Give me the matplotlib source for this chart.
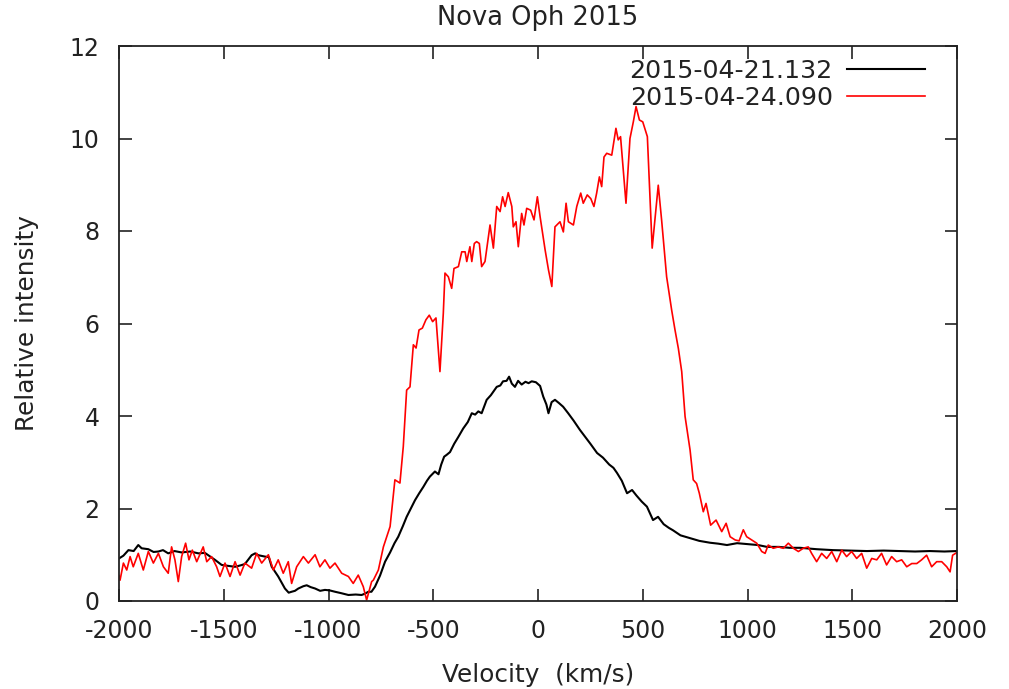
import matplotlib
matplotlib.use("Agg")
import matplotlib.pyplot as plt

# ---------------- data ----------------
black_v = [-2000, -1979, -1955, -1930, -1908, -1892, -1860, -1835, -1812, -1790,
           -1765, -1735, -1701, -1660, -1621, -1590, -1574, -1542, -1510, -1480,
           -1446, -1420, -1399, -1367, -1350, -1335, -1303, -1285, -1271, -1240,
           -1208, -1190, -1176, -1160, -1144, -1120, -1104, -1085, -1064, -1040,
           -1017, -995, -969, -940, -905, -870, -842, -825, -810, -795,
           -778, -754, -730, -706, -685, -667, -645, -627, -605, -587,
           -567, -547, -530, -516, -492, -475, -462, -448, -436, -420,
           -400, -380, -357, -335, -316, -300, -285, -269, -245, -225,
           -197, -180, -167, -150, -138, -125, -110, -95, -78, -60,
           -45, -30, -10, 10, 25, 40, 50, 65, 81, 100,
           120, 144, 170, 200, 225, 250, 282, 310, 340, 360,
           377, 400, 425, 449, 470, 495, 520, 549, 573, 600,
           625, 644, 680, 725, 770, 821, 860, 902, 950, 998,
           1050, 1093, 1150, 1200, 1251, 1330, 1408, 1490, 1570, 1650,
           1728, 1800, 1870, 1940, 1990, 2000]
black_i = [0.92, 0.98, 1.10, 1.08, 1.21, 1.14, 1.12, 1.06, 1.07, 1.10,
           1.03, 1.08, 1.05, 1.07, 1.03, 1.04, 0.99, 0.89, 0.78, 0.76,
           0.74, 0.77, 0.80, 0.99, 1.03, 0.99, 0.96, 0.95, 0.74, 0.53,
           0.27, 0.18, 0.20, 0.22, 0.27, 0.32, 0.34, 0.30, 0.27, 0.22,
           0.24, 0.23, 0.20, 0.17, 0.13, 0.14, 0.13, 0.16, 0.20, 0.20,
           0.31, 0.55, 0.85, 1.05, 1.25, 1.39, 1.62, 1.82, 2.02, 2.18,
           2.33, 2.47, 2.60, 2.69, 2.80, 2.74, 2.95, 3.12, 3.16, 3.22,
           3.40, 3.55, 3.73, 3.87, 4.06, 4.03, 4.10, 4.06, 4.35, 4.45,
           4.63, 4.66, 4.75, 4.76, 4.85, 4.70, 4.63, 4.76, 4.68, 4.74,
           4.71, 4.75, 4.73, 4.65, 4.42, 4.25, 4.06, 4.30, 4.35, 4.28,
           4.20, 4.06, 3.90, 3.70, 3.55, 3.40, 3.20, 3.10, 2.95, 2.88,
           2.77, 2.60, 2.33, 2.40, 2.28, 2.15, 2.04, 1.75, 1.82, 1.66,
           1.58, 1.53, 1.42, 1.36, 1.30, 1.26, 1.24, 1.21, 1.25, 1.23,
           1.21, 1.17, 1.17, 1.15, 1.15, 1.12, 1.10, 1.09, 1.08, 1.09,
           1.08, 1.07, 1.08, 1.07, 1.08, 1.08]

red_v = [-2000, -1995, -1979, -1963, -1947, -1932, -1908, -1884, -1860, -1836,
         -1812, -1788, -1765, -1749, -1733, -1717, -1701, -1682, -1666, -1650,
         -1629, -1598, -1581, -1558, -1534, -1518, -1494, -1470, -1446, -1422,
         -1399, -1367, -1343, -1319, -1287, -1263, -1240, -1216, -1192, -1176,
         -1152, -1120, -1096, -1064, -1041, -1017, -993, -969, -937, -905,
         -882, -858, -834, -818, -794, -786, -762, -738, -706, -683,
         -659, -643, -627, -611, -595, -582, -568, -552, -535, -519,
         -503, -487, -468, -452, -444, -428, -412, -401, -380, -364,
         -348, -340, -325, -316, -304, -293, -280, -269, -253, -229,
         -213, -197, -181, -169, -157, -142, -125, -118, -105, -94,
         -78, -67, -54, -35, -19, -3, 10, 34, 50, 66,
         81, 105, 121, 134, 145, 169, 185, 204, 216, 235,
         252, 267, 280, 293, 304, 315, 328, 352, 372, 383,
         394, 420, 439, 455, 468, 484, 500, 522, 545, 574,
         590, 614, 638, 654, 670, 686, 702, 726, 741, 757,
         770, 789, 802, 824, 850, 877, 898, 917, 941, 960,
         980, 996, 1020, 1044, 1068, 1084, 1099, 1123, 1147, 1171,
         1195, 1219, 1243, 1266, 1290, 1306, 1330, 1354, 1378, 1402,
         1426, 1450, 1473, 1497, 1521, 1545, 1569, 1593, 1617, 1640,
         1664, 1688, 1712, 1736, 1760, 1784, 1808, 1831, 1855, 1879,
         1903, 1927, 1951, 1967, 1979, 2000]
red_i = [0.55, 0.45, 0.82, 0.67, 0.96, 0.74, 1.03, 0.67, 1.07, 0.82,
         1.03, 0.74, 0.60, 1.17, 0.89, 0.42, 0.96, 1.25, 0.89, 1.10,
         0.85, 1.17, 0.85, 0.96, 0.74, 0.53, 0.82, 0.53, 0.85, 0.56,
         0.82, 0.71, 1.03, 0.82, 1.00, 0.67, 0.89, 0.60, 0.85, 0.38,
         0.74, 0.96, 0.82, 1.00, 0.74, 0.89, 0.71, 0.82, 0.60, 0.53,
         0.38, 0.56, 0.31, 0.02, 0.42, 0.45, 0.67, 1.17, 1.61, 2.62,
         2.55, 3.34, 4.56, 4.63, 5.54, 5.47, 5.86, 5.90, 6.08, 6.18,
         6.04, 6.12, 4.96, 6.22, 7.09, 7.01, 6.76, 7.19, 7.23, 7.55,
         7.55, 7.34, 7.66, 7.34, 7.73, 7.77, 7.73, 7.23, 7.34, 8.13,
         7.63, 8.53, 8.42, 8.74, 8.53, 8.83, 8.53, 8.09, 8.20, 7.66,
         8.38, 8.13, 8.49, 8.45, 8.24, 8.74, 8.31, 7.59, 7.16, 6.80,
         8.09, 8.20, 7.98, 8.60, 8.20, 8.13, 8.53, 8.82, 8.60, 8.78,
         8.70, 8.53, 8.82, 9.17, 8.96, 9.60, 9.68, 9.64, 10.22, 9.97,
         10.04, 8.60, 10.00, 10.36, 10.69, 10.40, 10.36, 10.04, 7.63, 8.99,
         8.24, 7.01, 6.29, 5.86, 5.46, 4.96, 3.99, 3.26, 2.62, 2.54,
         2.33, 1.93, 2.11, 1.64, 1.75, 1.50, 1.68, 1.39, 1.32, 1.30,
         1.54, 1.39, 1.32, 1.25, 1.07, 1.03, 1.21, 1.14, 1.17, 1.14,
         1.25, 1.14, 1.07, 1.14, 1.17, 1.03, 0.85, 1.03, 0.92, 1.07,
         0.85, 1.10, 0.96, 1.07, 0.92, 1.03, 0.71, 0.92, 0.89, 1.03,
         0.78, 0.96, 0.85, 0.89, 0.74, 0.81, 0.81, 0.89, 0.99, 0.74,
         0.85, 0.85, 0.74, 0.63, 0.99, 1.05]

labels = ["2015-04-21.132", "2015-04-24.090"]
colors = ["#000000", "#ff0000"]
x_ticks = [-2000, -1500, -1000, -500, 0, 500, 1000, 1500, 2000]
y_ticks = [0, 2, 4, 6, 8, 10, 12]

title = "Nova Oph 2015"
xlabel = "Velocity  (km/s)"
ylabel = "Relative intensity"

# ---------------- figure ----------------
W, H = 1009, 689
plt.rcParams['font.family'] = ['DejaVu Sans']
FS_TICK = 17
FS_LAB = 17.8

fig = plt.figure(figsize=(W / 100, H / 100), dpi=100)
L, R, T, B = 119, 957, 46, 601
ax = fig.add_axes([L / W, 1 - B / H, (R - L) / W, (B - T) / H])

ax.plot(black_v, black_i, color=colors[0], lw=1.5, label=labels[0])
ax.plot(red_v, red_i, color=colors[1], lw=1.2, label=labels[1])

ax.set_xlim(-2000, 2000)
ax.set_ylim(0, 12)
ax.set_xticks(x_ticks)
ax.set_yticks(y_ticks)
ax.set_xticklabels([str(t) for t in x_ticks])
ax.tick_params(direction='in', length=9, width=1.2, top=True, right=True,
               labelsize=FS_TICK, colors='#222222', labelcolor='#222222')
ax.tick_params(axis='x', pad=13)
ax.tick_params(axis='y', pad=14)
for s in ax.spines.values():
    s.set_linewidth(1.3)
    s.set_color('#222222')

cx = (L + R) / 2 / W
fig.text(cx, 1 - 18 / H, title, ha='center', va='center', fontsize=18.5, color='#222222')
fig.text(cx, 1 - 675 / H, xlabel, ha='center', va='center', fontsize=FS_LAB, color='#222222')
fig.text(27 / W, 1 - ((T + B) / 2) / H, ylabel, ha='center', va='center',
         rotation=90, fontsize=FS_LAB, color='#222222')

leg = ax.legend(loc='upper right', bbox_to_anchor=((925 - L) / (R - L), 1 - (59 - T) / (B - T)),
                frameon=False, markerfirst=False, fontsize=18.2, handlelength=3.1,
                handletextpad=0.55, labelspacing=0.12, borderaxespad=0, borderpad=0)
for t in leg.get_texts():
    t.set_color('#222222')

fig.savefig("out.png", dpi=100)
